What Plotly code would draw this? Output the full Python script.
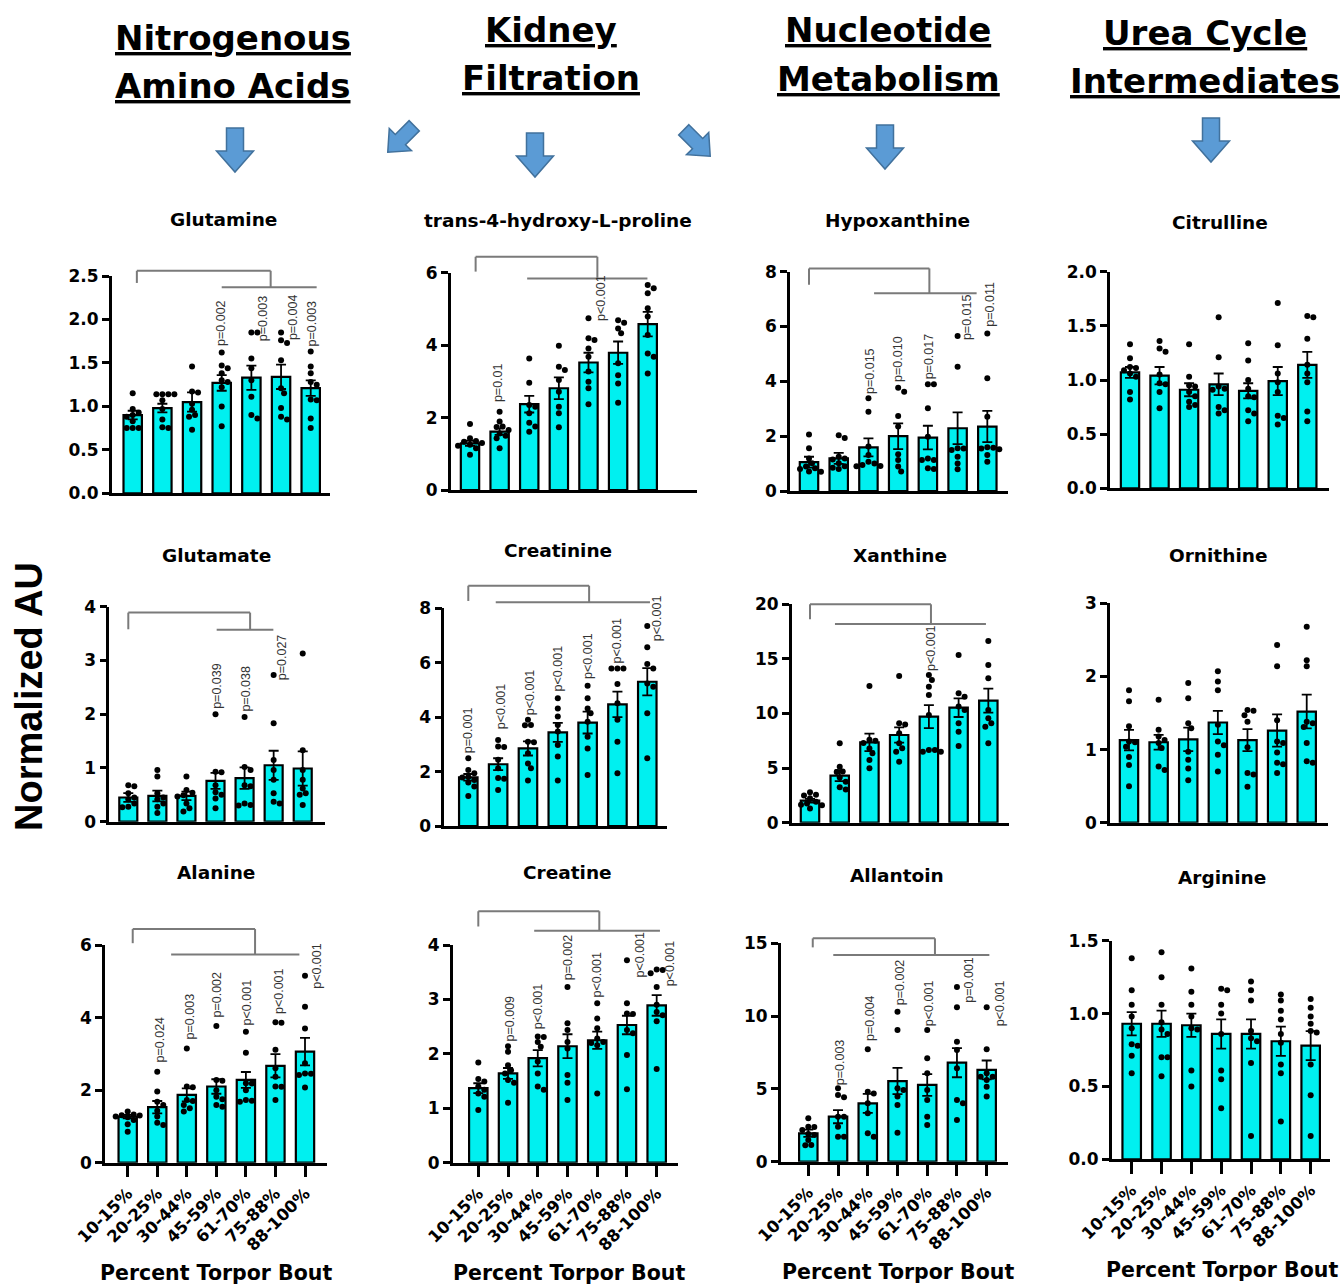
import math
import plotly.graph_objects as go

W, H = 1344, 1286
CATEGORIES = ["10-15%", "20-25%", "30-44%", "45-59%", "61-70%", "75-88%", "88-100%"]

# ---------------- data ----------------
glutamine_mean = [0.90, 0.98, 1.05, 1.27, 1.33, 1.34, 1.21]
glutamine_sem = [0.05, 0.05, 0.11, 0.09, 0.14, 0.14, 0.09]
glutamine_points = [
    [1.15, 0.97, 0.93, 0.90, 0.88, 0.83, 0.75, 0.75, 0.75],
    [1.14, 1.14, 1.14, 1.14, 1.07, 0.97, 0.85, 0.76, 0.75],
    [1.46, 1.17, 1.16, 1.03, 0.96, 0.90, 0.88, 0.73],
    [1.62, 1.47, 1.44, 1.38, 1.30, 1.28, 1.22, 1.00, 0.77],
    [1.85, 1.85, 1.55, 1.44, 1.30, 1.11, 0.90, 0.86],
    [1.85, 1.76, 1.73, 1.53, 1.21, 1.15, 0.98, 0.88, 0.85],
    [1.63, 1.46, 1.38, 1.28, 1.25, 1.08, 1.07, 0.86, 0.75],
]
glutamine_p = ["", "", "", "p=0.002", "p=0.003", "p=0.004", "p=0.003"]

hyp_mean = [1.29, 1.61, 2.37, 2.81, 3.52, 3.79, 4.58]
hyp_sem = [0.07, 0.09, 0.23, 0.30, 0.27, 0.31, 0.34]
hyp_points = [
    [1.82, 1.43, 1.35, 1.33, 1.30, 1.25, 1.22, 1.15, 0.97],
    [2.16, 1.89, 1.75, 1.74, 1.66, 1.56, 1.50, 1.43, 1.15],
    [3.63, 2.96, 2.35, 2.30, 2.12, 1.86, 1.75, 1.61],
    [3.98, 3.40, 3.31, 3.04, 2.71, 2.30, 2.12, 1.73],
    [4.74, 4.19, 4.14, 3.91, 3.68, 3.27, 2.99, 2.81, 2.37],
    [4.69, 4.62, 4.46, 4.33, 3.50, 3.17, 2.94, 2.41],
    [5.66, 5.57, 5.43, 5.02, 4.79, 4.28, 3.77, 3.68, 3.22],
]
hyp_p = ["", "p=0.01", "", "", "p<0.001", "", ""]

hypox_mean = [1.05, 1.19, 1.59, 2.00, 1.95, 2.29, 2.35]
hypox_sem = [0.20, 0.20, 0.33, 0.47, 0.43, 0.58, 0.57]
hypox_points = [
    [2.06, 1.56, 1.19, 1.01, 0.89, 0.83, 0.80, 0.71, 0.70],
    [2.03, 1.93, 1.25, 1.19, 1.15, 1.01, 0.90, 0.85, 0.80],
    [3.38, 2.89, 1.62, 1.31, 1.07, 1.00, 0.95, 0.91, 0.90],
    [3.77, 3.62, 2.74, 2.35, 1.34, 1.13, 0.89, 0.71],
    [3.89, 3.89, 3.02, 1.98, 1.19, 1.13, 1.13, 0.83, 0.80],
    [5.65, 4.53, 1.56, 1.55, 1.50, 1.25, 1.00, 0.79],
    [5.75, 4.11, 2.71, 1.60, 1.58, 1.55, 1.52, 1.31, 1.07],
]
hypox_p = ["", "", "p=0.015", "p=0.010", "p=0.017", "p=0.015", "p=0.011"]

citrulline_mean = [1.07, 1.04, 0.91, 0.96, 0.90, 0.99, 1.14]
citrulline_sem = [0.05, 0.08, 0.06, 0.10, 0.07, 0.13, 0.12]
citrulline_points = [
    [1.33, 1.20, 1.12, 1.11, 1.09, 1.06, 1.03, 0.89, 0.82],
    [1.36, 1.29, 1.26, 1.05, 0.97, 0.96, 0.89, 0.74],
    [1.33, 1.03, 0.95, 0.94, 0.89, 0.85, 0.80, 0.77, 0.75],
    [1.58, 1.21, 0.94, 0.92, 0.91, 0.75, 0.72, 0.69],
    [1.34, 1.18, 1.00, 0.92, 0.85, 0.84, 0.72, 0.69, 0.62],
    [1.71, 1.32, 1.06, 0.98, 0.89, 0.67, 0.65, 0.59],
    [1.59, 1.58, 1.38, 1.14, 1.06, 0.98, 0.71, 0.62],
]
citrulline_p = [""] * 7

glutamate_mean = [0.45, 0.48, 0.48, 0.76, 0.81, 1.05, 0.99]
glutamate_sem = [0.08, 0.10, 0.08, 0.15, 0.20, 0.27, 0.32]
glutamate_points = [
    [0.68, 0.66, 0.53, 0.45, 0.42, 0.34, 0.28, 0.27],
    [0.96, 0.84, 0.53, 0.45, 0.42, 0.34, 0.28, 0.16],
    [0.84, 0.59, 0.54, 0.49, 0.47, 0.34, 0.25, 0.19],
    [2.00, 0.93, 0.92, 0.68, 0.55, 0.50, 0.43, 0.25],
    [1.95, 1.02, 0.96, 0.68, 0.66, 0.34, 0.31, 0.30],
    [2.73, 1.83, 1.15, 0.96, 0.78, 0.53, 0.37, 0.34],
    [3.13, 1.33, 0.96, 0.78, 0.62, 0.53, 0.50, 0.31],
]
glutamate_p = ["", "", "", "p=0.039", "p=0.038", "p=0.027", ""]

creatinine_mean = [1.79, 2.27, 2.85, 3.44, 3.80, 4.47, 5.30]
creatinine_sem = [0.12, 0.22, 0.26, 0.35, 0.40, 0.47, 0.50]
creatinine_points = [
    [2.49, 2.06, 1.94, 1.80, 1.78, 1.69, 1.60, 1.45, 1.10],
    [3.16, 2.92, 2.90, 2.43, 2.12, 1.76, 1.74, 1.32],
    [3.90, 3.71, 3.70, 3.10, 3.08, 2.67, 2.30, 2.12, 1.67],
    [4.69, 4.32, 4.02, 3.71, 3.47, 2.98, 2.55, 1.67],
    [5.15, 4.69, 4.32, 4.14, 3.83, 3.28, 2.85, 1.87],
    [5.79, 5.79, 5.79, 5.22, 4.51, 3.90, 3.10, 1.94],
    [7.35, 6.57, 5.95, 5.79, 5.24, 5.12, 4.14, 2.49],
]
creatinine_p = ["p=0.001", "p<0.001", "p<0.001", "p<0.001", "p<0.001", "p<0.001", "p<0.001"]

xanthine_mean = [2.02, 4.31, 7.36, 8.03, 9.71, 10.53, 11.18]
xanthine_sem = [0.17, 0.50, 0.80, 0.70, 1.05, 0.85, 1.10]
xanthine_points = [
    [2.78, 2.55, 2.50, 2.23, 1.92, 1.75, 1.65, 1.60, 1.31],
    [7.27, 5.13, 4.70, 4.65, 4.15, 3.76, 3.24, 3.05],
    [12.52, 7.60, 7.50, 7.30, 6.80, 6.35, 5.74, 4.98],
    [13.44, 9.10, 9.00, 8.18, 7.27, 6.81, 6.50, 5.59],
    [13.53, 13.07, 12.46, 11.69, 9.86, 6.66, 6.66, 6.50, 6.50],
    [15.36, 11.85, 11.54, 10.63, 10.32, 9.10, 8.34, 7.02],
    [16.64, 14.44, 13.22, 10.32, 9.56, 9.10, 8.79, 7.27],
]
xanthine_p = ["", "", "", "", "p<0.001", "", ""]

ornithine_mean = [1.13, 1.10, 1.14, 1.37, 1.13, 1.26, 1.52]
ornithine_sem = [0.14, 0.10, 0.16, 0.16, 0.15, 0.22, 0.23]
ornithine_points = [
    [1.81, 1.66, 1.32, 1.11, 1.10, 1.04, 0.90, 0.79, 0.50],
    [1.68, 1.27, 1.18, 1.13, 1.09, 1.02, 0.77, 0.72],
    [1.91, 1.70, 1.36, 1.29, 0.97, 0.86, 0.74, 0.58],
    [2.07, 1.93, 1.81, 1.34, 1.11, 1.06, 0.93, 0.70],
    [1.54, 1.53, 1.47, 1.38, 1.03, 0.68, 0.66, 0.49],
    [2.43, 2.14, 1.40, 1.11, 1.09, 0.96, 0.82, 0.80, 0.68],
    [2.68, 2.22, 2.14, 1.38, 1.36, 1.31, 1.09, 0.84, 0.82],
]
ornithine_p = [""] * 7

alanine_mean = [1.27, 1.53, 1.87, 2.10, 2.28, 2.67, 3.06]
alanine_sem = [0.05, 0.17, 0.18, 0.20, 0.22, 0.32, 0.38]
alanine_points = [
    [1.41, 1.33, 1.31, 1.30, 1.27, 1.25, 1.18, 1.06, 0.85],
    [2.51, 1.96, 1.68, 1.59, 1.43, 1.27, 1.10, 1.04],
    [3.15, 2.10, 2.08, 1.73, 1.70, 1.59, 1.50, 1.41],
    [3.77, 2.28, 2.26, 2.00, 1.82, 1.75, 1.59, 1.54],
    [3.61, 3.03, 2.19, 2.18, 2.00, 1.73, 1.71, 1.68],
    [3.87, 3.86, 3.11, 2.60, 2.37, 2.10, 2.09, 1.73],
    [5.15, 4.30, 3.70, 2.74, 2.46, 2.45, 2.42, 2.07],
]
alanine_p = ["", "p=0.024", "p=0.003", "p=0.002", "p<0.001", "p<0.001", "p<0.001"]

creatine_mean = [1.37, 1.64, 1.92, 2.14, 2.25, 2.53, 2.89]
creatine_sem = [0.09, 0.10, 0.15, 0.22, 0.16, 0.17, 0.19]
creatine_points = [
    [1.84, 1.54, 1.49, 1.40, 1.34, 1.27, 1.21, 0.97],
    [2.14, 2.04, 1.79, 1.70, 1.64, 1.52, 1.47, 1.10],
    [2.32, 2.31, 2.22, 2.13, 1.86, 1.64, 1.40, 1.34],
    [3.23, 2.56, 2.44, 2.22, 2.10, 1.61, 1.47, 1.15],
    [2.93, 2.65, 2.47, 2.28, 2.22, 2.20, 2.16, 1.27],
    [3.72, 2.93, 2.74, 2.73, 2.44, 2.38, 1.98, 1.35],
    [3.55, 3.54, 3.48, 3.23, 2.90, 2.77, 2.71, 2.60, 1.72],
]
creatine_p = ["", "p=0.009", "p<0.001", "p=0.002", "p<0.001", "p<0.001", "p<0.001"]

allantoin_mean = [1.95, 3.09, 4.01, 5.54, 5.27, 6.80, 6.30]
allantoin_sem = [0.25, 0.45, 0.65, 0.90, 0.75, 1.00, 0.65]
allantoin_points = [
    [2.98, 2.40, 2.38, 2.18, 1.90, 1.83, 1.49, 1.15, 1.13],
    [5.04, 4.58, 4.42, 3.09, 3.08, 2.40, 1.72, 1.71],
    [7.72, 4.81, 4.69, 4.01, 3.32, 1.95, 1.72],
    [10.30, 9.05, 5.04, 4.92, 4.47, 3.89, 1.99],
    [9.05, 7.10, 6.07, 4.92, 4.24, 3.09, 2.52],
    [12.00, 10.60, 8.24, 7.67, 6.41, 4.24, 4.01, 2.86],
    [10.60, 7.72, 6.07, 5.84, 5.83, 5.61, 5.15, 4.47],
]
allantoin_p = ["", "p=0.003", "p=0.004", "p=0.002", "p<0.001", "p=0.001", "p<0.001"]

arginine_mean = [0.93, 0.93, 0.92, 0.86, 0.86, 0.81, 0.78]
arginine_sem = [0.08, 0.09, 0.08, 0.10, 0.10, 0.10, 0.10]
arginine_points = [
    [1.38, 1.16, 1.06, 0.98, 0.90, 0.79, 0.78, 0.71, 0.59],
    [1.42, 1.25, 1.06, 0.94, 0.89, 0.86, 0.70, 0.70, 0.57],
    [1.31, 1.15, 1.06, 0.98, 0.90, 0.89, 0.61, 0.50],
    [1.17, 1.16, 1.06, 1.00, 0.86, 0.61, 0.55, 0.35],
    [1.22, 1.16, 1.09, 0.88, 0.83, 0.81, 0.66, 0.16],
    [1.13, 1.09, 1.02, 0.96, 0.86, 0.80, 0.65, 0.59, 0.26],
    [1.10, 1.04, 0.98, 0.93, 0.88, 0.87, 0.65, 0.44, 0.16],
]
arginine_p = [""] * 7

HEADERS = [("Nitrogenous", "Amino Acids"), ("Kidney", "Filtration"),
           ("Nucleotide", "Metabolism"), ("Urea Cycle", "Intermediates")]
Y_TITLE = "Normalized AU"
X_TITLE = "Percent Torpor Bout"

# ---------------- layout / styling configuration ----------------
CYAN = "#00F0F0"
BOLD = "DejaVu Sans"

# box = (axis-left px, axis-right px, first bar px, bar spacing px, zero px, top-tick px)
PANELS = [
    dict(name="Glutamine", mean=glutamine_mean, sem=glutamine_sem, pts=glutamine_points, p=glutamine_p,
         ymax=2.5, dtick=0.5, fmt=".1f", box=(111.7, 330, 132.7, 29.67, 493.3, 276), title=(223, 219),
         bracket=(0.14, 4.65, 2.56, 2.42, 3.0, 6.2, 2.37),
         plab={3: (1.68, 0.0), 4: (1.74, 0.4), 5: (1.75, 0.4), 6: (1.68, 0.05)}, bottom=False),
    dict(name="trans-4-hydroxy-L-proline", mean=hyp_mean, sem=hyp_sem, pts=hyp_points, p=hyp_p,
         ymax=6, dtick=2, fmt="d", box=(450.7, 696.7, 470, 29.62, 490, 272.7), title=(558, 221),
         bracket=(0.19, 4.3, 6.44, 6.03, 1.93, 5.99, 5.84),
         plab={1: (2.39, -0.05), 4: (4.65, 0.4)}, bottom=False),
    dict(name="Hypoxanthine", mean=hypox_mean, sem=hypox_sem, pts=hypox_points, p=hypox_p,
         ymax=8, dtick=2, fmt="d", box=(790, 1008, 809, 29.72, 491, 271.7), title=(897, 221),
         bracket=(0.0, 4.05, 8.12, 7.52, 2.19, 5.64, 7.21),
         plab={2: (3.5, 0.05), 3: (3.95, 0.0), 4: (4.05, 0.05), 5: (5.45, 0.3), 6: (5.95, 0.1)}, bottom=False),
    dict(name="Citrulline", mean=citrulline_mean, sem=citrulline_sem, pts=citrulline_points, p=citrulline_p,
         ymax=2.0, dtick=0.5, fmt=".1f", box=(1110, 1329, 1130, 29.55, 488.3, 271.7), title=(1220, 222),
         bracket=None, plab={}, bottom=False),
    dict(name="Glutamate", mean=glutamate_mean, sem=glutamate_sem, pts=glutamate_points, p=glutamate_p,
         ymax=4, dtick=1, fmt="d", box=(109.3, 325, 128.3, 29.07, 821.7, 606.7), title=(216, 555),
         bracket=(0.0, 4.19, 3.89, 3.58, 3.04, 4.99, 3.57),
         plab={3: (2.08, 0.05), 4: (2.03, 0.05), 5: (2.62, 0.3)}, bottom=False),
    dict(name="Creatinine", mean=creatinine_mean, sem=creatinine_sem, pts=creatinine_points, p=creatinine_p,
         ymax=8, dtick=2, fmt="d", box=(444.3, 666.7, 468.3, 29.83, 826, 608.3), title=(558, 551),
         bracket=(0.0, 4.05, 8.83, 8.27, 0.92, 6.09, 8.22),
         plab={0: (2.65, 0.0), 1: (3.5, 0.08), 2: (4.05, 0.05), 3: (4.9, 0.0), 4: (5.35, 0.03),
               5: (5.95, 0.0), 6: (6.75, 0.32)}, bottom=False),
    dict(name="Xanthine", mean=xanthine_mean, sem=xanthine_sem, pts=xanthine_points, p=xanthine_p,
         ymax=20, dtick=5, fmt="d", box=(791.7, 1009.3, 810, 29.72, 822.7, 604.3), title=(900, 555),
         bracket=(0.0, 4.07, 20.0, 18.63, 0.84, 5.92, 18.2),
         plab={4: (13.8, 0.07)}, bottom=False),
    dict(name="Ornithine", mean=ornithine_mean, sem=ornithine_sem, pts=ornithine_points, p=ornithine_p,
         ymax=3, dtick=1, fmt="d", box=(1110, 1328.3, 1129, 29.62, 822.7, 603.3), title=(1218, 555),
         bracket=None, plab={}, bottom=False),
    dict(name="Alanine", mean=alanine_mean, sem=alanine_sem, pts=alanine_points, p=alanine_p,
         ymax=6, dtick=2, fmt="d", box=(105, 326.7, 127.7, 29.55, 1162.7, 945), title=(216, 873),
         bracket=(0.17, 4.31, 6.44, 6.05, 1.47, 5.81, 5.74),
         plab={1: (2.74, 0.1), 2: (3.38, 0.12), 3: (3.98, 0.03), 4: (3.75, 0.03), 5: (4.07, 0.12),
               6: (4.76, 0.4)}, bottom=True, xt=(216, 1273)),
    dict(name="Creatine", mean=creatine_mean, sem=creatine_sem, pts=creatine_points, p=creatine_p,
         ymax=4, dtick=1, fmt="d", box=(452.7, 678.3, 478.3, 29.73, 1162.7, 945), title=(567, 873),
         bracket=(0.0, 4.07, 4.62, 4.34, 1.88, 6.11, 4.26),
         plab={1: (2.2, 0.05), 2: (2.44, 0.02), 3: (3.34, 0.03), 4: (3.02, 0.0), 5: (3.39, 0.45),
               6: (3.23, 0.43)}, bottom=True, xt=(569, 1273)),
    dict(name="Allantoin", mean=allantoin_mean, sem=allantoin_sem, pts=allantoin_points, p=allantoin_p,
         ymax=15, dtick=5, fmt="d", box=(780.7, 1008.3, 808.3, 29.73, 1161.7, 943.3), title=(897, 875),
         bracket=(0.15, 4.26, 15.34, 14.72, 0.84, 6.09, 14.2),
         plab={1: (5.15, 0.05), 2: (8.24, 0.05), 3: (10.65, 0.07), 4: (9.27, 0.04), 5: (10.88, 0.42),
               6: (9.27, 0.43)}, bottom=True, xt=(898, 1272)),
    dict(name="Arginine", mean=arginine_mean, sem=arginine_sem, pts=arginine_points, p=arginine_p,
         ymax=1.5, dtick=0.5, fmt=".1f", box=(1111.7, 1330, 1131.7, 29.83, 1159.3, 940.7), title=(1222, 877),
         bracket=None, plab={}, bottom=True, xt=(1222, 1270)),
]

HEADER_POS = [((233, 38), (233, 86)), ((551, 30), (551, 78)), ((888, 30), (888, 79)), ((1205, 33), (1205, 81))]
ARROWS = [(235, 150, 90, 1.0), (401, 139, 135, 0.85), (535, 155, 90, 1.0),
          (697, 143, 45, 0.85), (885, 147, 90, 1.0), (1211, 140, 90, 1.0)]


def swarm_offsets(vals, ppu, ppc, d=6.0):
    order = sorted(range(len(vals)), key=lambda i: -vals[i])
    steps = [0.0]
    for k in range(1, 14):
        steps += [k * d / 2, -k * d / 2]
    placed, offs = [], [0.0] * len(vals)
    for i in order:
        y = vals[i] * ppu
        for s in steps:
            if all((s - px) ** 2 + (y - py) ** 2 >= (0.9 * d) ** 2 for px, py in placed):
                placed.append((s, y))
                offs[i] = s / ppc
                break
    return offs


def arrow_path(cx, cy, ang_deg, scale):
    L, sw, hw, hl = 44 * scale, 17 * scale, 37 * scale, 21 * scale
    a = math.radians(ang_deg)
    ux, uy = math.cos(a), math.sin(a)
    nx, ny = -uy, ux

    def P(s, t):
        x = cx + ux * s + nx * t
        y = cy + uy * s + ny * t
        return f"{x / W:.5f},{1 - y / H:.5f}"
    t0, hb, tip = -L / 2, L / 2 - hl, L / 2
    pts = [P(t0, -sw / 2), P(hb, -sw / 2), P(hb, -hw / 2), P(tip, 0), P(hb, hw / 2), P(hb, sw / 2), P(t0, sw / 2)]
    return "M " + " L ".join(pts) + " Z"


fig = go.Figure()
layout = {}
annotations = []
shapes = []

for i, p in enumerate(PANELS, start=1):
    sfx = "" if i == 1 else str(i)
    xa, ya = "x" + sfx, "y" + sfx
    axL, axR, b1, sp, y0, yt = p["box"]
    xl, xr = (axL - b1) / sp, (axR - b1) / sp
    ymax = p["ymax"]
    ppu = (y0 - yt) / ymax

    def fx(c, xl=xl, xr=xr):
        return (c - xl) / (xr - xl)

    def fy(v, ymax=ymax):
        return v / ymax

    cats = list(range(len(CATEGORIES)))
    fig.add_trace(go.Bar(
        x=cats, y=p["mean"], width=0.62, xaxis=xa, yaxis=ya,
        marker=dict(color=CYAN, line=dict(color="black", width=2.2)),
        error_y=dict(type="data", array=p["sem"], visible=True, color="black", thickness=1.8, width=5),
        hoverinfo="skip"))
    xs, ys = [], []
    for c, vals in enumerate(p["pts"]):
        offs = swarm_offsets(vals, ppu, sp)
        xs += [c + o for o in offs]
        ys += vals
    fig.add_trace(go.Scatter(x=xs, y=ys, mode="markers", xaxis=xa, yaxis=ya, cliponaxis=False,
                             marker=dict(color="black", size=6, line=dict(width=0))))

    tickfont = dict(family=BOLD, size=17, color="black", weight="bold")
    layout["xaxis" + sfx] = dict(
        domain=[axL / W, axR / W], range=[xl, xr], anchor=ya, showline=True, linecolor="black",
        linewidth=2.5, showgrid=False, zeroline=False, tickmode="array", tickvals=cats,
        ticktext=CATEGORIES, showticklabels=p["bottom"], ticks="outside" if p["bottom"] else "",
        ticklen=12, tickwidth=2.5, tickcolor="black", tickangle=-45, automargin=False,
        tickfont=dict(family=BOLD, size=16.5, color="black", weight="bold"), fixedrange=True)
    n = int(round(ymax / p["dtick"]))
    layout["yaxis" + sfx] = dict(
        domain=[1 - y0 / H, 1 - yt / H], range=[0, ymax], anchor=xa, showline=True, linecolor="black",
        linewidth=2.5, showgrid=False, zeroline=False, tickmode="array", automargin=False,
        tickvals=[k * p["dtick"] for k in range(n + 1)], tickformat=p["fmt"], ticks="outside",
        ticklen=7, tickwidth=2.5, tickcolor="black", tickfont=tickfont, fixedrange=True)

    # panel title
    tx, ty = p["title"]
    annotations.append(dict(xref="paper", yref="paper", x=tx / W, y=1 - ty / H, text=p["name"],
                            showarrow=False, xanchor="center", yanchor="middle",
                            font=dict(family=BOLD, size=18.5, color="black", weight="bold")))
    # comparison brackets
    if p["bracket"]:
        l, r, top, legl, l2a, l2b, l2y = p["bracket"]
        xd, yd = xa + " domain", ya + " domain"
        segs = [(l, legl, l, top), (l, top, r, top), (r, top, r, l2y), (l2a, l2y, l2b, l2y)]
        for (xa0, ya0, xa1, ya1) in segs:
            shapes.append(dict(type="line", xref=xd, yref=yd, x0=fx(xa0), y0=fy(ya0), x1=fx(xa1),
                               y1=fy(ya1), line=dict(color="#7a7a7a", width=2)))
    # p-value labels
    for c, txt in enumerate(p["p"]):
        if not txt:
            continue
        yb, dx = p["plab"][c]
        annotations.append(dict(xref=xa + " domain", yref=ya + " domain", x=fx(c + dx), y=fy(yb),
                                text=txt, textangle=-90, showarrow=False, xanchor="center",
                                yanchor="bottom", borderpad=0,
                                font=dict(family="Liberation Sans", size=12.5, color="#333333")))
    if p["bottom"]:
        bx, by = p["xt"]
        annotations.append(dict(xref="paper", yref="paper", x=bx / W, y=1 - by / H, text=X_TITLE,
                                showarrow=False, xanchor="center", yanchor="middle",
                                font=dict(family=BOLD, size=20.5, color="black", weight="bold")))

# section headers
for (l1, l2), ((x1, y1), (x2, y2)) in zip(HEADERS, HEADER_POS):
    for t, (x, y) in ((l1, (x1, y1)), (l2, (x2, y2))):
        annotations.append(dict(xref="paper", yref="paper", x=x / W, y=1 - y / H, text=f"<u>{t}</u>",
                                showarrow=False, xanchor="center", yanchor="middle",
                                font=dict(family=BOLD, size=34, color="black", weight="bold")))

# y title
annotations.append(dict(xref="paper", yref="paper", x=29 / W, y=1 - 697 / H, text=Y_TITLE, textangle=-90,
                        showarrow=False, xanchor="center", yanchor="middle",
                        font=dict(family="Liberation Sans", size=38, color="black", weight="bold")))

# block arrows
for cx, cy, ang, sc in ARROWS:
    shapes.append(dict(type="path", xref="paper", yref="paper", path=arrow_path(cx, cy, ang, sc),
                       fillcolor="#5B9BD5", line=dict(color="#41719C", width=1.5)))

fig.update_layout(
    template="none",
    width=W, height=H, margin=dict(l=0, r=0, t=0, b=0, pad=0, autoexpand=False),
    paper_bgcolor="white", plot_bgcolor="rgba(0,0,0,0)", showlegend=False,
    annotations=annotations, shapes=shapes, **layout)

fig.write_html("out.html")
